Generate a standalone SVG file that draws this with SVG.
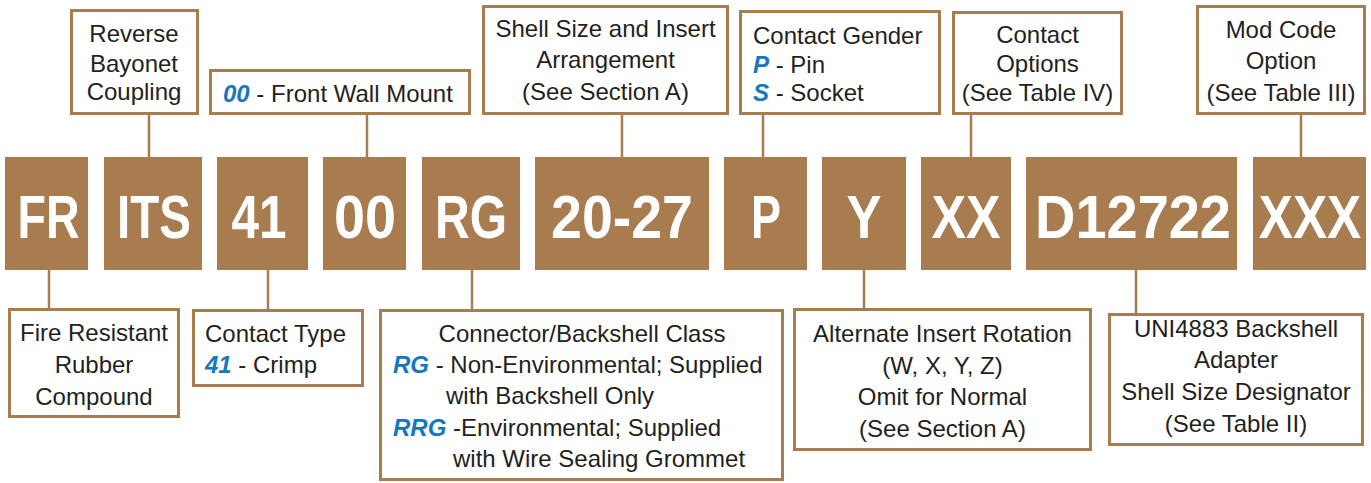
<svg xmlns="http://www.w3.org/2000/svg" width="1371" height="483" viewBox="0 0 1371 483">
<style>
.box{fill:#fff;stroke:#A97C50;stroke-width:3}
.code{fill:#A97C50}
.ct{font-family:"Liberation Sans",Arial,sans-serif;font-weight:bold;font-size:61px;fill:#fff;text-anchor:middle}
.t{font-family:"Liberation Sans",Arial,sans-serif;font-size:24px;fill:#231F20}
.m{text-anchor:middle}
.b{fill:#1677BD;font-weight:bold;font-style:italic}
.conn line{stroke:#A97C50;stroke-width:2.5}
</style>
<rect width="1371" height="483" fill="#fff"/>
<g class="conn" id="connectors">
<line x1="149" y1="115" x2="149" y2="158"/>
<line x1="367" y1="115" x2="367" y2="158"/>
<line x1="622" y1="115" x2="622" y2="158"/>
<line x1="763" y1="115" x2="763" y2="158"/>
<line x1="971" y1="115" x2="971" y2="158"/>
<line x1="1301" y1="115" x2="1301" y2="158"/>
<line x1="49" y1="269" x2="49" y2="309"/>
<line x1="268" y1="269" x2="268" y2="310"/>
<line x1="472" y1="269" x2="472" y2="310"/>
<line x1="864" y1="269" x2="864" y2="309"/>
<line x1="1136" y1="269" x2="1136" y2="314"/>
</g>
<g id="code-FR"><rect class="code" x="5" y="157" width="83" height="113"/><text class="ct" x="48.5" y="238" textLength="62" lengthAdjust="spacingAndGlyphs">FR</text></g>
<g id="code-ITS"><rect class="code" x="104" y="157" width="98" height="113"/><text class="ct" x="154" y="238" textLength="74" lengthAdjust="spacingAndGlyphs">ITS</text></g>
<g id="code-41"><rect class="code" x="217" y="157" width="91" height="113"/><text class="ct" x="259" y="238" textLength="55" lengthAdjust="spacingAndGlyphs">41</text></g>
<g id="code-00"><rect class="code" x="323" y="157" width="83" height="113"/><text class="ct" x="365" y="238" textLength="62" lengthAdjust="spacingAndGlyphs">00</text></g>
<g id="code-RG"><rect class="code" x="422" y="157" width="98" height="113"/><text class="ct" x="471" y="238" textLength="72" lengthAdjust="spacingAndGlyphs">RG</text></g>
<g id="code-20-27"><rect class="code" x="535" y="157" width="174" height="113"/><text class="ct" x="622" y="238" textLength="142" lengthAdjust="spacingAndGlyphs">20-27</text></g>
<g id="code-P"><rect class="code" x="724" y="157" width="83" height="113"/><text class="ct" x="766" y="238" textLength="30" lengthAdjust="spacingAndGlyphs">P</text></g>
<g id="code-Y"><rect class="code" x="822" y="157" width="84" height="113"/><text class="ct" x="864" y="238" textLength="35" lengthAdjust="spacingAndGlyphs">Y</text></g>
<g id="code-XX"><rect class="code" x="921" y="157" width="90" height="113"/><text class="ct" x="966" y="238" textLength="69" lengthAdjust="spacingAndGlyphs">XX</text></g>
<g id="code-D12722"><rect class="code" x="1026" y="157" width="211" height="113"/><text class="ct" x="1133" y="238" textLength="196" lengthAdjust="spacingAndGlyphs">D12722</text></g>
<g id="code-XXX"><rect class="code" x="1253" y="157" width="113" height="113"/><text class="ct" transform="translate(1310,238) scale(0.84,1)" x="0" y="0">XXX</text></g>

<g id="label-reverse-bayonet"><rect class="box" x="71.5" y="10.5" width="126" height="103"/>
<text class="t m" x="134" y="42">Reverse</text><text class="t m" x="134" y="72">Bayonet</text><text class="t m" x="134" y="100">Coupling</text></g>
<g id="label-front-wall"><rect class="box" x="210.5" y="70.5" width="259" height="43"/>
<text class="t" x="223" y="102"><tspan class="b">00</tspan> - Front Wall Mount</text></g>
<g id="label-shell-size"><rect class="box" x="483.5" y="6.5" width="244" height="107"/>
<text class="t m" x="605.5" y="37">Shell Size and Insert</text><text class="t m" x="605.5" y="68">Arrangement</text><text class="t m" x="605.5" y="100">(See Section A)</text></g>
<g id="label-gender"><rect class="box" x="740.5" y="11.5" width="199" height="102"/>
<text class="t" x="753" y="44">Contact Gender</text><text class="t" x="753" y="73"><tspan class="b">P</tspan> - Pin</text><text class="t" x="753" y="101"><tspan class="b">S</tspan> - Socket</text></g>
<g id="label-contact-options"><rect class="box" x="953.5" y="12.5" width="168" height="101"/>
<text class="t m" x="1037.5" y="43">Contact</text><text class="t m" x="1037.5" y="72">Options</text><text class="t m" x="1037.5" y="101">(See Table IV)</text></g>
<g id="label-mod-code"><rect class="box" x="1197.5" y="6.5" width="167" height="107"/>
<text class="t m" x="1281" y="38">Mod Code</text><text class="t m" x="1281" y="69">Option</text><text class="t m" x="1281" y="101">(See Table III)</text></g>

<g id="label-fire"><rect class="box" x="9.5" y="309.5" width="169" height="107"/>
<text class="t m" x="94" y="341">Fire Resistant</text><text class="t m" x="94" y="373">Rubber</text><text class="t m" x="94" y="405">Compound</text></g>
<g id="label-contact-type"><rect class="box" x="193.5" y="310.5" width="169" height="75"/>
<text class="t" x="205" y="342">Contact Type</text><text class="t" x="205" y="373"><tspan class="b">41</tspan> - Crimp</text></g>
<g id="label-class"><rect class="box" x="380.5" y="310.5" width="402" height="169"/>
<text class="t m" x="582" y="342">Connector/Backshell Class</text>
<text class="t" x="393" y="373"><tspan class="b">RG</tspan> - Non-Environmental; Supplied</text>
<text class="t" x="446" y="404">with Backshell Only</text>
<text class="t" x="393" y="436"><tspan class="b">RRG</tspan> -Environmental; Supplied</text>
<text class="t" x="453" y="467">with Wire Sealing Grommet</text></g>
<g id="label-rotation"><rect class="box" x="794.5" y="309.5" width="296" height="140"/>
<text class="t m" x="942.5" y="342">Alternate Insert Rotation</text><text class="t m" x="942.5" y="374">(W, X, Y, Z)</text><text class="t m" x="942.5" y="405">Omit for Normal</text><text class="t m" x="942.5" y="437">(See Section A)</text></g>
<g id="label-uni"><rect class="box" x="1109.5" y="314.5" width="253" height="130"/>
<text class="t m" x="1236" y="337">UNI4883 Backshell</text><text class="t m" x="1236" y="368">Adapter</text><text class="t m" x="1236" y="400">Shell Size Designator</text><text class="t m" x="1236" y="432">(See Table II)</text></g>
</svg>
